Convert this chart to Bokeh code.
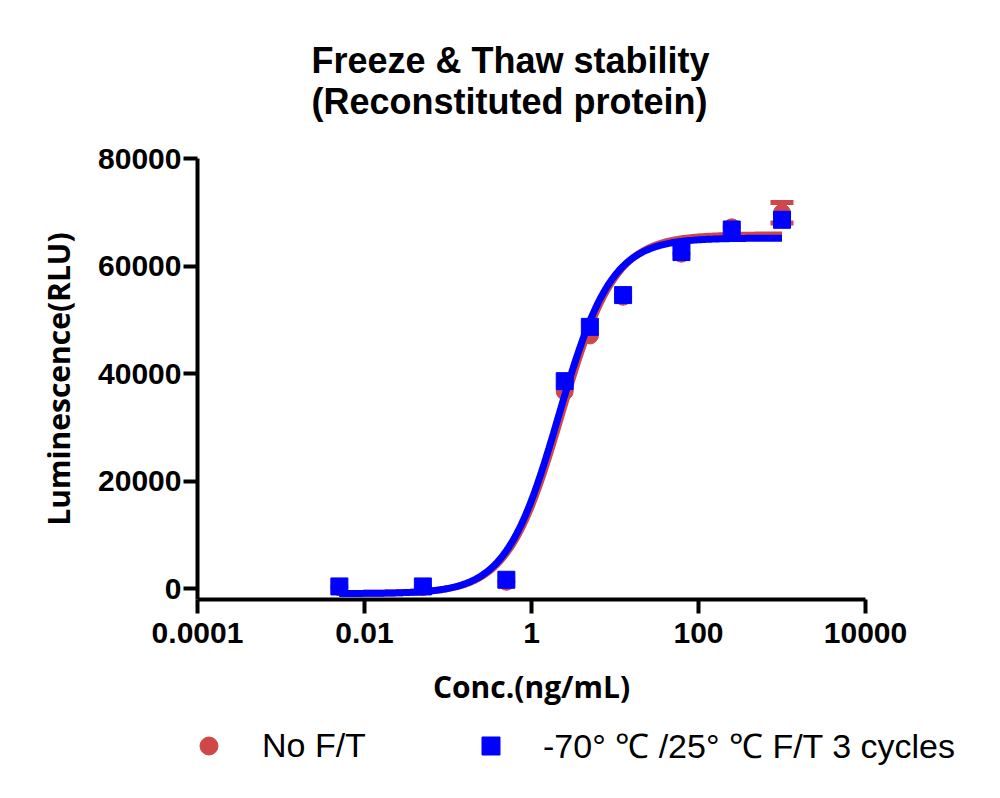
import numpy as np
from bokeh.plotting import figure
from bokeh.layouts import column, row
from bokeh.models import (FixedTicker, Range1d, Legend, LegendItem, Title, Whisker,
                          ColumnDataSource, TeeHead)
from bokeh.embed import file_html
from bokeh.resources import INLINE

# ---- data ----
conc = [0.005, 0.05, 0.5, 2.5, 5, 12.5, 62.5, 250, 1000]
no_ft = [300, 300, 1300, 36700, 47100, 54300, 62300, 67200, 69900]
no_ft_err = [0, 0, 0, 0, 0, 0, 0, 0, 1900]
ft3 = [430, 430, 1670, 38600, 48700, 54600, 62600, 66800, 68600]

# 4-parameter logistic fit parameters (bottom, top, logEC50, hill)
fit_no_ft = dict(bottom=-900, top=65800, logec50=0.36, hill=1.36)
fit_ft3 = dict(bottom=-900, top=65200, logec50=0.325, hill=1.38)

x_ticks = [0.0001, 0.01, 1, 100, 10000]
x_tick_labels = ["0.0001", "0.01", "1", "100", "10000"]
y_ticks = [0, 20000, 40000, 60000, 80000]

title_text = "Freeze & Thaw stability\n(Reconstituted protein)"
label_no_ft = "No F/T"
label_ft3 = "-70° ℃ /25° ℃ F/T 3 cycles"

RED = "#CF4747"
BLUE = "#0000FF"


def four_pl(x, f):
    return f["bottom"] + (f["top"] - f["bottom"]) / (1 + 10 ** ((f["logec50"] - np.log10(x)) * f["hill"]))


xs = np.logspace(np.log10(min(conc)), np.log10(max(conc)), 400)

MAIN_H = 720
p = figure(width=984, height=MAIN_H, x_axis_type="log",
           x_range=Range1d(0.0001, 10000), y_range=Range1d(-2000, 80000),
           output_backend="svg", toolbar_location=None,
           min_border_left=197, min_border_right=119, min_border_top=158,
           min_border_bottom=MAIN_H - 599)

p.outline_line_color = None
p.xgrid.visible = False
p.ygrid.visible = False
p.background_fill_color = "white"
p.border_fill_color = "white"

# title (two lines)
t = Title(text=title_text, align="left", text_font="Liberation Sans",
          text_font_size="36px", text_font_style="bold", text_color="black",
          offset=114, standoff=74)
p.add_layout(t, "above")

# axes
for ax in (p.xaxis[0], p.yaxis[0]):
    ax.axis_line_width = 4
    ax.axis_line_color = "black"
    ax.major_tick_line_width = 4
    ax.major_tick_line_color = "black"
    ax.major_tick_out = 14
    ax.major_tick_in = 0
    ax.minor_tick_line_color = None
    ax.major_label_text_font = "Liberation Sans"
    ax.major_label_text_font_style = "bold"
    ax.major_label_text_font_size = "30px"
    ax.major_label_text_color = "black"
    ax.axis_label_text_font = "Open Sans"
    ax.axis_label_text_font_style = "bold"
    ax.axis_label_text_font_size = "30px"
    ax.axis_label_text_color = "black"

p.xaxis.ticker = FixedTicker(ticks=x_ticks)
p.xaxis.major_label_overrides = {t_: l for t_, l in zip(x_ticks, x_tick_labels)}
p.xaxis.major_label_standoff = 9
p.xaxis.axis_label = "Conc.(ng/mL)"
p.xaxis.axis_label_standoff = 20

p.yaxis.ticker = FixedTicker(ticks=y_ticks)
p.yaxis.major_label_standoff = 2
p.yaxis.axis_label = "Luminescence(RLU)"
p.yaxis.axis_label_standoff = 16

# No F/T series
src_red = ColumnDataSource(dict(x=conc, y=no_ft))
err_idx = [i for i, e in enumerate(no_ft_err) if e > 0]
src_err = ColumnDataSource(dict(x=[conc[i] for i in err_idx],
                                lo=[no_ft[i] - no_ft_err[i] for i in err_idx],
                                hi=[no_ft[i] + no_ft_err[i] for i in err_idx]))
wh = Whisker(source=src_err, base="x", upper="hi", lower="lo", dimension="height",
             line_color=RED, line_width=5,
             upper_head=TeeHead(size=23, line_color=RED, line_width=5),
             lower_head=TeeHead(size=23, line_color=RED, line_width=5))
p.add_layout(wh)
p.scatter("x", "y", source=src_red, marker="circle", size=17,
          fill_color=RED, line_color=RED)
p.line(xs, four_pl(xs, fit_no_ft), line_color=RED, line_width=7)

# F/T 3 cycles series
src_blue = ColumnDataSource(dict(x=conc, y=ft3))
p.scatter("x", "y", source=src_blue, marker="square", size=17,
          fill_color=BLUE, line_color=BLUE)
p.line(xs, four_pl(xs, fit_ft3), line_color=BLUE, line_width=7)

# ---- legend strip below the chart ----
LEG_H = 62
q = figure(width=984, height=LEG_H, x_range=Range1d(0, 1), y_range=Range1d(0, 1),
           output_backend="svg", toolbar_location=None,
           min_border_left=0, min_border_right=0, min_border_top=0, min_border_bottom=0)
q.axis.visible = False
q.xgrid.visible = False
q.ygrid.visible = False
q.outline_line_color = None
q.background_fill_color = "white"
q.border_fill_color = "white"

# legend-only renderers (their single point lies outside the strip's visible range)
lr_red = q.scatter(x=[-1], y=[-1], marker="circle", size=17, fill_color=RED, line_color=RED)
lr_blue = q.scatter(x=[-1], y=[-1], marker="square", size=17, fill_color=BLUE, line_color=BLUE)

common = dict(padding=0, margin=0, border_line_color=None, background_fill_alpha=0,
              glyph_width=45, glyph_height=45, label_height=45,
              label_text_font="Liberation Sans", label_text_font_size="34px",
              label_text_color="black")
leg1 = Legend(items=[LegendItem(label=label_no_ft, renderers=[lr_red])],
              location=(186, 14), label_standoff=31, **common)
leg2 = Legend(items=[LegendItem(label=label_ft3, renderers=[lr_blue])],
              location=(468, 14), label_standoff=30, **common)
q.add_layout(leg1, "center")
q.add_layout(leg2, "center")

layout = column(p, row(q), spacing=0)
open("out.html", "w").write(file_html(layout, INLINE))
